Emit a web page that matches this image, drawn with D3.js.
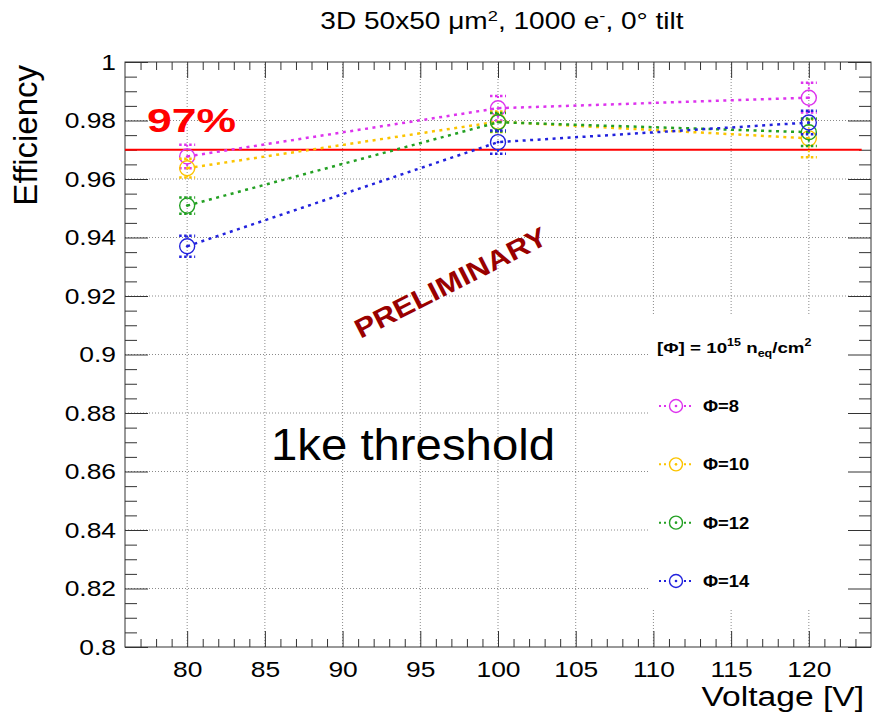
<!DOCTYPE html>
<html>
<head>
<meta charset="utf-8">
<script src="https://cdn.jsdelivr.net/npm/d3@7"></script>
<style>
  body { margin: 0; background: #fff; }
  svg { display: block; font-family: "Liberation Sans", Arial, sans-serif; }
</style>
</head>
<body>
<svg id="chart" width="872" height="715"></svg>
<script>
// data
const voltages = [80, 100, 120];
const seriesNames = ["Φ=8", "Φ=10", "Φ=12", "Φ=14"];
const eff8 = [0.9677, 0.9842, 0.9878];
const eff10 = [0.9637, 0.9796, 0.9739];
const eff12 = [0.9509, 0.9794, 0.9760];
const eff14 = [0.9370, 0.9726, 0.9793];
const err8 = [0.0040, 0.0042, 0.0051];
const err10 = [0.0032, 0.0035, 0.0065];
const err12 = [0.0028, 0.0032, 0.0047];
const err14 = [0.0036, 0.0040, 0.0040];
const colors = ["#dd33ee", "#fcc400", "#23a023", "#2222dd"];
const threshold = 0.97;

const allEff = [eff8, eff10, eff12, eff14];
const allErr = [err8, err10, err12, err14];

const svg = d3.select("#chart");
const fLeft = 125, fRight = 871, fTop = 62, fBottom = 647;

const x = d3.scaleLinear().domain([76, 124]).range([fLeft, fRight]);
const y = d3.scaleLinear().domain([0.8, 1]).range([fBottom, fTop]);

// stretched text helper (reference fonts are wider than Liberation)
function label(g, tx, ty, txt, size, opts = {}) {
    const t = g.append("text")
        .attr("transform", `translate(${tx},${ty}) scale(${opts.sx || 1.2},1)`)
        .attr("font-size", size)
        .attr("font-weight", opts.bold ? "bold" : null)
        .attr("fill", opts.color || "#000")
        .attr("text-anchor", opts.anchor || "start");
    if (txt !== null) t.text(txt);
    return t;
}

// grid
const grid = svg.append("g").attr("stroke", "#8a8a8a").attr("stroke-dasharray", "1,2").attr("stroke-width", 1);
grid.selectAll("line.gx")
    .data(x.ticks(10))
    .join("line")
    .attr("class", "gx")
    .attr("x1", d => x(d)).attr("x2", d => x(d))
    .attr("y1", fBottom).attr("y2", fTop);
grid.selectAll("line.gy")
    .data(y.ticks(10).filter(d => d > 0.8 && d < 1))
    .join("line")
    .attr("class", "gy")
    .attr("x1", fLeft).attr("x2", fRight)
    .attr("y1", d => y(d)).attr("y2", d => y(d));

// legend box covers grid
svg.append("rect")
    .attr("x", 650).attr("y", 315)
    .attr("width", fRight - 650).attr("height", 609 - 315)
    .attr("fill", "#fff");

// axes (ROOT style, ticks inside)
function styleAxis(g) {
    g.select(".domain").remove();
    g.selectAll(".tick line").attr("stroke", "#333");
}
const minorX = d3.range(77, 124, 1).filter(d => d % 5 !== 0);
const minorY = d3.range(161, 200).map(d => d / 200).filter(d => Math.round(d * 1000) % 20 !== 0);

svg.append("g").attr("transform", `translate(0,${fBottom})`)
    .call(d3.axisBottom(x).tickValues(minorX).tickSize(-8).tickFormat(""))
    .call(styleAxis);
svg.append("g").attr("transform", `translate(0,${fTop})`)
    .call(d3.axisTop(x).tickValues(minorX).tickSize(-8).tickFormat(""))
    .call(styleAxis);
svg.append("g").attr("transform", `translate(0,${fTop})`)
    .call(d3.axisTop(x).ticks(10).tickSize(-16).tickFormat(""))
    .call(styleAxis);
const xAxis = svg.append("g").attr("transform", `translate(0,${fBottom})`)
    .call(d3.axisBottom(x).ticks(10).tickSize(-16).tickPadding(14))
    .call(styleAxis);
xAxis.selectAll(".tick text")
    .attr("font-size", 22)
    .attr("font-family", "Liberation Sans, Arial, sans-serif")
    .attr("fill", "#000")
    .attr("transform", "scale(1.2,1)");

svg.append("g").attr("transform", `translate(${fLeft},0)`)
    .call(d3.axisLeft(y).tickValues(minorY).tickSize(-12).tickFormat(""))
    .call(styleAxis);
svg.append("g").attr("transform", `translate(${fRight},0)`)
    .call(d3.axisRight(y).tickValues(minorY).tickSize(-12).tickFormat(""))
    .call(styleAxis);
svg.append("g").attr("transform", `translate(${fRight},0)`)
    .call(d3.axisRight(y).ticks(10).tickSize(-23).tickFormat(""))
    .call(styleAxis);
const yAxis = svg.append("g").attr("transform", `translate(${fLeft},0)`)
    .call(d3.axisLeft(y).ticks(10).tickSize(-23).tickPadding(7.5).tickFormat(d => String(+d.toFixed(2))))
    .call(styleAxis);
yAxis.selectAll(".tick text")
    .attr("font-size", 22)
    .attr("font-family", "Liberation Sans, Arial, sans-serif")
    .attr("fill", "#000")
    .attr("transform", "scale(1.2,1)");

// frame
svg.append("rect")
    .attr("x", fLeft).attr("y", fTop)
    .attr("width", fRight - fLeft).attr("height", fBottom - fTop)
    .attr("fill", "none").attr("stroke", "#333").attr("stroke-width", 1);

// 97% line
svg.append("line")
    .attr("x1", x(76)).attr("x2", x(123.4))
    .attr("y1", y(threshold)).attr("y2", y(threshold))
    .attr("stroke", "#ff0000").attr("stroke-width", 2);

// series
const lineGen = d3.line().x((d, i) => x(voltages[i])).y(d => y(d));
const R = 7.5;
allEff.forEach((eff, s) => {
    const g = svg.append("g").attr("stroke", colors[s]).attr("fill", "none");
    g.append("path")
        .attr("d", lineGen(eff))
        .attr("stroke-width", 2.5)
        .attr("stroke-dasharray", "3,4.5");
    const pts = g.selectAll("g.pt")
        .data(eff.map((v, i) => ({ v, e: allErr[s][i], vx: voltages[i] })))
        .join("g")
        .attr("class", "pt");
    pts.append("line")
        .attr("x1", d => x(d.vx)).attr("x2", d => x(d.vx))
        .attr("y1", d => y(d.v + d.e)).attr("y2", d => y(d.v) - R)
        .attr("stroke-width", 2).attr("stroke-dasharray", "2,2.5");
    pts.append("line")
        .attr("x1", d => x(d.vx)).attr("x2", d => x(d.vx))
        .attr("y1", d => y(d.v) + R).attr("y2", d => y(d.v - d.e))
        .attr("stroke-width", 2).attr("stroke-dasharray", "2,2.5");
    [1, -1].forEach(sg => {
        pts.append("line")
            .attr("x1", d => x(d.vx) - 8).attr("x2", d => x(d.vx) + 8)
            .attr("y1", d => y(d.v + sg * d.e)).attr("y2", d => y(d.v + sg * d.e))
            .attr("stroke-width", 2.5).attr("stroke-dasharray", "2.5,2.5");
    });
    pts.append("circle")
        .attr("cx", d => x(d.vx)).attr("cy", d => y(d.v))
        .attr("r", R).attr("stroke-width", 1.4);
    pts.append("circle")
        .attr("cx", d => x(d.vx)).attr("cy", d => y(d.v))
        .attr("r", 1.3).attr("fill", colors[s]).attr("stroke", "none");
});

// legend
const leg = svg.append("g");
const head = label(leg, 657, 353, null, 15, { bold: true, sx: 1.25 });
head.append("tspan").text("[Φ] = 10");
head.append("tspan").attr("font-size", 10).attr("dy", -7).text("15");
head.append("tspan").attr("dy", 7).text(" n");
head.append("tspan").attr("font-size", 10).attr("dy", 4).text("eq");
head.append("tspan").attr("dy", -4).text("/cm");
head.append("tspan").attr("font-size", 10).attr("dy", -7).text("2");

const legendY = d3.scalePoint().domain(seriesNames).range([406, 581]);
seriesNames.forEach((name, s) => {
    const cy = legendY(name);
    const g = leg.append("g").attr("stroke", colors[s]).attr("fill", "none");
    g.append("line").attr("x1", 659).attr("x2", 693).attr("y1", cy).attr("y2", cy)
        .attr("stroke-width", 2).attr("stroke-dasharray", "2,3");
    g.append("circle").attr("cx", 676).attr("cy", cy).attr("r", 6.5).attr("fill", "#fff").attr("stroke-width", 1.4);
    g.append("circle").attr("cx", 676).attr("cy", cy).attr("r", 1.3).attr("fill", colors[s]).attr("stroke", "none");
    label(leg, 703, cy + 6, name, 16, { bold: true, sx: 1.15 });
});

// title
const title = label(svg, 502, 29, null, 23, { anchor: "middle", sx: 1.22 });
title.append("tspan").text("3D 50x50  μm");
title.append("tspan").attr("font-size", 15).attr("dy", -8).text("2");
title.append("tspan").attr("dy", 8).text(", 1000 e");
title.append("tspan").attr("font-size", 15).attr("dy", -8).text("-");
title.append("tspan").attr("dy", 8).text(", 0° tilt");

// axis titles
label(svg, 864, 706, "Voltage [V]", 28, { anchor: "end", sx: 1.2 });
svg.append("text")
    .attr("transform", "translate(37,65) rotate(-90)")
    .attr("font-size", 33)
    .attr("text-anchor", "end")
    .text("Efficiency");

// annotations
svg.append("text")
    .attr("x", 147).attr("y", 132)
    .attr("font-size", 33).attr("font-weight", "bold").attr("fill", "#ff0000")
    .attr("textLength", 89).attr("lengthAdjust", "spacingAndGlyphs")
    .text("97%");
svg.append("text")
    .attr("x", 271).attr("y", 460)
    .attr("font-size", 44)
    .attr("textLength", 284).attr("lengthAdjust", "spacingAndGlyphs")
    .text("1ke threshold");
svg.append("text")
    .attr("transform", "translate(455,291) rotate(-27)")
    .attr("text-anchor", "middle")
    .attr("font-size", 27).attr("font-weight", "bold").attr("fill", "#990000")
    .attr("textLength", 212).attr("lengthAdjust", "spacingAndGlyphs")
    .text("PRELIMINARY");
</script>
</body>
</html>
